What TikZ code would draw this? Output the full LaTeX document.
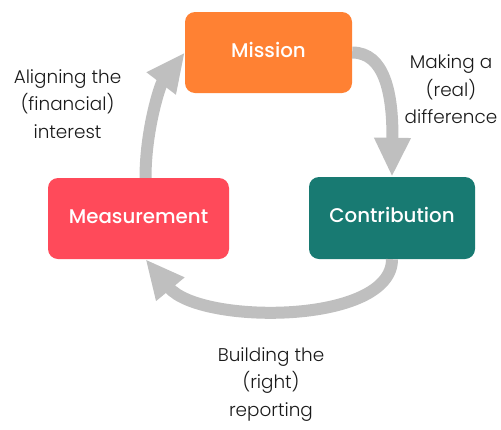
\documentclass[tikz,border=0pt]{standalone}
\usepackage{fontspec}
\IfFontExistsTF{Poppins Light}{\newfontfamily\lblfont{Poppins Light}}{\newfontfamily\lblfont{Poppins}}
\IfFontExistsTF{Poppins Medium}{\newfontfamily\boxfont{Poppins Medium}}{\newfontfamily\boxfont{Poppins}}
\usetikzlibrary{arrows.meta,calc}
\definecolor{arrowgray}{HTML}{BFBFBF}
\definecolor{missionorange}{HTML}{FF8133}
\definecolor{measred}{HTML}{FF4A5A}
\definecolor{contribteal}{HTML}{187A72}
\definecolor{lbltext}{HTML}{1A1A1A}
\tikzset{
  stagebox/.style={fill=#1, rounded corners=10pt, inner sep=0pt, text=white,
    font=\boxfont\fontsize{19.8}{24}\selectfont, text height=17pt, text depth=8pt},
  cyc/.style={draw=arrowgray, line width=12pt, -{Triangle[length=39pt,width=34pt]}},
  lbl/.style={align=center, inner sep=0pt, text=lbltext,
    font=\lblfont\fontsize{18.4}{27.5}\selectfont}
}
\begin{document}
\begin{tikzpicture}[x=1pt,y=-1pt]
\useasboundingbox (0,0) rectangle (501,429);
\node[stagebox=missionorange, minimum width=167pt, minimum height=81pt] (mission) at (268.5,52.5) {Mission};
\node[stagebox=measred, minimum width=181pt, minimum height=81pt] (meas) at (138.5,218.5) {Measurement};
\node[stagebox=contribteal, minimum width=166pt, minimum height=82pt] (contrib) at (392,218) {Contribution};
\draw[cyc] (mission.east) .. controls (384,52.5) and (393,92) .. (contrib.north);
\draw[cyc] (contrib.south) .. controls (392,325) and (200,325) .. ([xshift=7pt]meas.south);
\draw[cyc] ([xshift=7pt]meas.north) .. controls (145.5,130) and (160,85) .. (mission.west);
\node[lbl] (lalign) at (67.5,104) {Aligning the\\(financial)\\interest};
\node[lbl] (lmake) at (451,89.5) {Making a\\(real)\\difference};
\node[lbl] (lbuild) at (271,384.5) {Building the\\(right)\\reporting};
\end{tikzpicture}
\end{document}
